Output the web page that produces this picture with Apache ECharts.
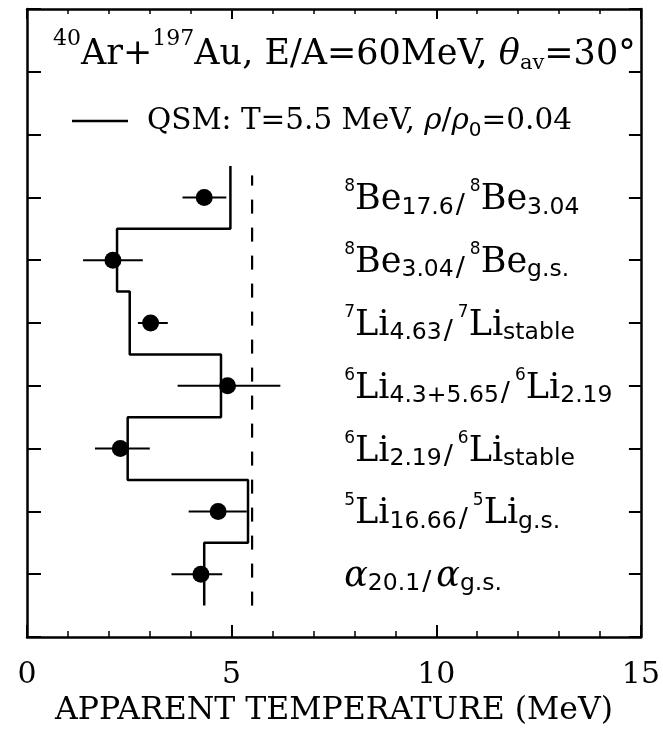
<!DOCTYPE html>
<html>
<head>
<meta charset="utf-8">
<script src="https://cdn.jsdelivr.net/npm/echarts@6/dist/echarts.min.js"></script>
<style>
  html, body { margin: 0; padding: 0; background: #fff; }
  #chart { width: 663px; height: 733px; }
</style>
</head>
<body>
<div id="chart"></div>
<script>
// Rows of the plot (bottom to top) and the measured apparent temperatures (MeV)
const rows = [1, 2, 3, 4, 5, 6, 7];
const measuredT = [4.25, 4.67, 2.28, 4.90, 3.02, 2.10, 4.33];
const errLow = [3.53, 3.95, 1.66, 3.68, 2.71, 1.37, 3.80];
const errHigh = [4.77, 5.37, 3.00, 6.19, 3.44, 2.83, 4.87];
// QSM prediction for each ratio (drawn as a step histogram)
const qsmT = [4.33, 5.40, 2.46, 4.74, 2.51, 2.20, 4.97];
// Source temperature of the QSM calculation
const sourceT = 5.5;
const sourceSpan = [0.5, 7.35];
// Ratio names, bottom to top
const ratioLabels = [
  '{it|α}{sub|20.1}{sl|/}{it|α}{sub|g.s.}',
  '{sup|5}{m|Li}{sub|16.66}{sl|/}{sup|5}{m|Li}{sub|g.s.}',
  '{sup|6}{m|Li}{sub|2.19}{sl|/}{sup|6}{m|Li}{sub|stable}',
  '{sup|6}{m|Li}{sub|4.3+5.65}{sl|/}{sup|6}{m|Li}{sub|2.19}',
  '{sup|7}{m|Li}{sub|4.63}{sl|/}{sup|7}{m|Li}{sub|stable}',
  '{sup|8}{m|Be}{sub|3.04}{sl|/}{sup|8}{m|Be}{sub|g.s.}',
  '{sup|8}{m|Be}{sub|17.6}{sl|/}{sup|8}{m|Be}{sub|3.04}'
];
const labelX = 7.75;

const SERIF = 'DejaVu Serif';
const SANS = 'DejaVu Sans';

const stepPoints = [];
rows.forEach((r, i) => {
  stepPoints.push([qsmT[i], r - 0.5], [qsmT[i], r + 0.5]);
});

const richLabel = {
  m:   { fontFamily: SERIF, fontSize: 35, lineHeight: 44, padding: [6, 0, 0, 0], color: '#000' },
  it:  { fontFamily: SERIF, fontStyle: 'italic', fontSize: 35, lineHeight: 44, padding: [6, 0, 0, 0], color: '#000' },
  sup: { fontFamily: SANS, fontSize: 17, lineHeight: 20, verticalAlign: 'top', padding: [3, 0, 0, 0], color: '#000' },
  sub: { fontFamily: SANS, fontSize: 23.5, lineHeight: 26, verticalAlign: 'bottom', color: '#000' },
  sl:  { fontFamily: SANS, fontSize: 27, lineHeight: 30, verticalAlign: 'bottom', padding: [0, 5, 0, 2], color: '#000' }
};

const chart = echarts.init(document.getElementById('chart'), null, { renderer: 'canvas' });

const frameLine = { show: true, onZero: false, lineStyle: { color: '#000', width: 2.5 } };

chart.setOption({
  backgroundColor: '#fff',
  animation: false,
  textStyle: { fontFamily: SERIF, color: '#000' },
  title: {
    text: '{sup|40}{m|Ar+}{sup|197}{m|Au, E/A=60MeV, }{it|θ}{sub|av}{m|=30°}',
    left: 53,
    top: 28,
    padding: 0,
    textStyle: {
      fontWeight: 'normal',
      rich: {
        m:   { fontFamily: SERIF, fontWeight: 'normal', fontSize: 35, lineHeight: 46, padding: [8, 0, 0, 0], color: '#000' },
        it:  { fontFamily: SERIF, fontWeight: 'normal', fontStyle: 'italic', fontSize: 35, lineHeight: 46, padding: [8, 0, 0, 0], color: '#000' },
        sup: { fontFamily: SERIF, fontWeight: 'normal', fontSize: 22, lineHeight: 24, verticalAlign: 'top', color: '#000' },
        sub: { fontFamily: SERIF, fontWeight: 'normal', fontSize: 21, lineHeight: 24, verticalAlign: 'bottom', color: '#000' }
      }
    }
  },
  legend: {
    data: ['QSM'],
    left: 72,
    top: 106,
    padding: 0,
    icon: 'rect',
    itemWidth: 56,
    itemHeight: 2.5,
    selectedMode: false,
    formatter: () => '{f|QSM: T=5.5 MeV, }{it|ρ}{m|/}{it|ρ}{sub|0}{m|=0.04}',
    textStyle: {
      rich: {
        f:   { fontFamily: SERIF, fontSize: 29.5, lineHeight: 40, padding: [0, 0, 0, 14], color: '#000' },
        m:   { fontFamily: SERIF, fontSize: 29.5, lineHeight: 40, color: '#000' },
        it:  { fontFamily: SERIF, fontStyle: 'italic', fontSize: 29.5, lineHeight: 40, color: '#000' },
        sub: { fontFamily: SANS, fontSize: 20, lineHeight: 24, verticalAlign: 'bottom', color: '#000' }
      }
    }
  },
  grid: { left: 27, right: 20, top: 9, bottom: 96, containLabel: false },
  xAxis: [
    {
      type: 'value', position: 'bottom', min: 0, max: 15, interval: 5,
      axisLine: frameLine,
      axisTick: { show: true, inside: true, length: 12, lineStyle: { color: '#000', width: 2 } },
      minorTick: { show: true, splitNumber: 5, length: 6, lineStyle: { color: '#000', width: 1.5 } },
      splitLine: { show: false },
      axisLabel: { show: true, margin: 23, fontFamily: SERIF, fontSize: 30, color: '#000' },
      name: 'APPARENT TEMPERATURE (MeV)',
      nameLocation: 'middle',
      nameGap: 58,
      nameTextStyle: { fontFamily: SERIF, fontSize: 31.5, color: '#000' }
    },
    {
      type: 'value', position: 'top', min: 0, max: 15, interval: 5,
      axisLine: frameLine,
      axisTick: { show: true, inside: true, length: 10, lineStyle: { color: '#000', width: 2 } },
      minorTick: { show: true, splitNumber: 5, length: 5, lineStyle: { color: '#000', width: 1.5 } },
      splitLine: { show: false },
      axisLabel: { show: false }
    }
  ],
  yAxis: [
    {
      type: 'value', position: 'left', min: 0, max: 10, interval: 1,
      axisLine: frameLine,
      axisTick: { show: true, inside: true, length: 14, lineStyle: { color: '#000', width: 2 } },
      splitLine: { show: false },
      axisLabel: { show: false }
    },
    {
      type: 'value', position: 'right', min: 0, max: 10, interval: 1,
      axisLine: frameLine,
      axisTick: { show: true, inside: true, length: 12, lineStyle: { color: '#000', width: 2 } },
      splitLine: { show: false },
      axisLabel: { show: false }
    }
  ],
  series: [
    {
      name: 'QSM',
      type: 'line',
      data: stepPoints,
      symbol: 'none',
      lineStyle: { color: '#000', width: 2.5 },
      itemStyle: { color: '#000' },
      z: 3
    },
    {
      name: 'source temperature',
      type: 'line',
      data: sourceSpan.map(y => [sourceT, y]),
      symbol: 'none',
      lineStyle: { color: '#000', width: 2.2, type: [14, 14] },
      z: 2
    },
    {
      name: 'error',
      type: 'custom',
      data: rows.map((r, i) => [errLow[i], errHigh[i], r]),
      encode: { x: [0, 1], y: 2 },
      renderItem: (params, api) => {
        const y = api.value(2);
        const a = api.coord([api.value(0), y]);
        const b = api.coord([api.value(1), y]);
        return {
          type: 'line',
          shape: { x1: a[0], y1: a[1], x2: b[0], y2: b[1] },
          style: { stroke: '#000', lineWidth: 2 }
        };
      },
      z: 4
    },
    {
      name: 'measured',
      type: 'scatter',
      data: rows.map((r, i) => [measuredT[i], r]),
      symbol: 'circle',
      symbolSize: 17,
      itemStyle: { color: '#000', opacity: 1 },
      z: 5
    },
    {
      name: 'ratios',
      type: 'scatter',
      data: rows.map(r => [labelX, r]),
      symbolSize: 0.01,
      itemStyle: { color: '#000', opacity: 1 },
      silent: true,
      label: {
        show: true,
        position: 'right',
        distance: 0,
        color: '#000',
        opacity: 1,
        formatter: p => ratioLabels[p.dataIndex],
        rich: richLabel
      },
      z: 6
    }
  ]
});
</script>
</body>
</html>
